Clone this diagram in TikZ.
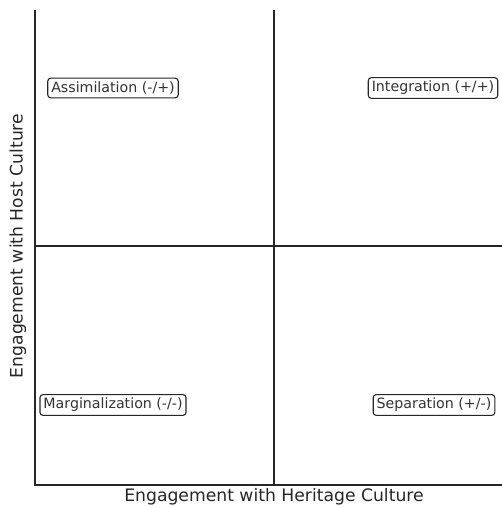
\documentclass[tikz,border=0pt]{standalone}
\usepackage{fontspec}
\setmainfont{DejaVu Sans}
\begin{document}
\begin{tikzpicture}[x=1pt, y=-1pt,
    quadbox/.style={draw=black!85, fill=white, rounded corners=3pt, line width=1.1pt,
        inner xsep=3.5pt, inner ysep=3.5pt, text=black!80, font=\fontsize{14.2}{16}\selectfont},
    axislabel/.style={text=black!85, font=\fontsize{17.2}{19}\selectfont},
    spine/.style={line width=1.2pt, black!85}]
    \useasboundingbox (0, 0) rectangle (502, 508);

    \coordinate (top) at (35, 10);
    \coordinate (origin) at (35, 485);
    \coordinate (right) at (502, 485);
    \coordinate (midtop) at (274, 10);
    \coordinate (midbot) at (274, 485);
    \coordinate (midleft) at (35, 246);
    \coordinate (midright) at (502, 246);

    \draw[spine] (top) -- (origin) -- (right);
    \draw[spine] (midtop) -- (midbot);
    \draw[spine] (midleft) -- (midright);

    \node[quadbox] (assim) at (113, 88) {Assimilation (-/+)};
    \node[quadbox] (integ) at (433, 88) {Integration (+/+)};
    \node[quadbox] (margin) at (113, 405) {Marginalization (-/-)};
    \node[quadbox] (separ) at (434, 405) {Separation (+/-)};

    \node[axislabel] (xlabel) at (274, 497) {Engagement with Heritage Culture};
    \node[axislabel, rotate=90] (ylabel) at (18, 246) {Engagement with Host Culture};
\end{tikzpicture}
\end{document}
